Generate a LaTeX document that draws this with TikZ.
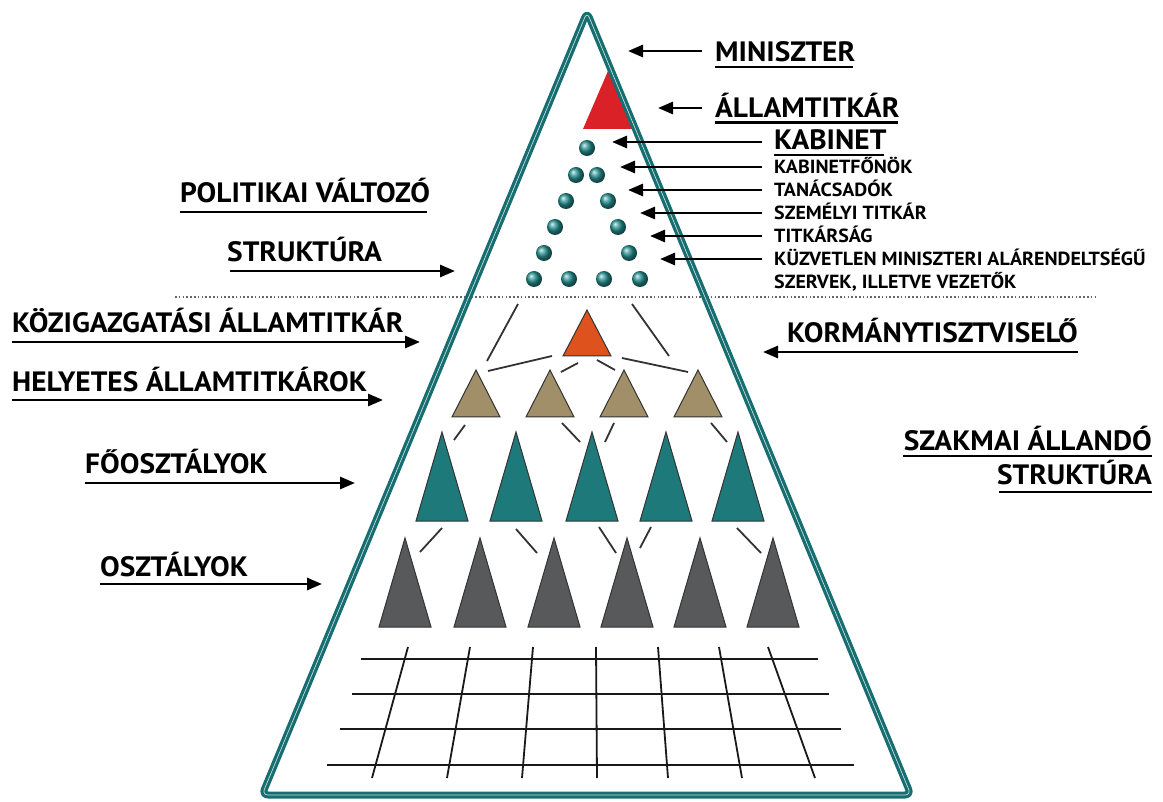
\documentclass[tikz,border=0pt]{standalone}
\usepackage{fontspec}
\setmainfont{PT Sans}
\newfontfamily\labfont{PT Sans}[FakeStretch=1.05]
\usetikzlibrary{arrows.meta}
\definecolor{pyrteal}{RGB}{22,110,112}
\definecolor{triteal}{RGB}{30,122,122}
\definecolor{tan}{RGB}{160,143,104}
\definecolor{darkgray}{RGB}{88,89,91}
\definecolor{orng}{RGB}{222,82,30}
\definecolor{redtri}{RGB}{218,33,40}
\definecolor{dotteal}{RGB}{38,145,145}
\tikzset{
  lab/.style={font=\labfont\bfseries\fontsize{28}{28}\selectfont, inner sep=0pt, anchor=base west},
  labe/.style={lab, anchor=base east},
  slab/.style={font=\labfont\bfseries\fontsize{19}{19}\selectfont, inner sep=0pt, anchor=base west},
  arr/.style={-{Triangle[length=15pt,width=12pt]}, line width=2.8pt},
  uline/.style={line width=2.8pt},
  conn/.style={line width=1.8pt, draw=black!80},
  tri/.style={draw=black!80, line width=1pt, line join=miter},
  gridl/.style={line width=1.8pt, draw=black!90},
  dotball/.style={ball color=dotteal},
}
\begin{document}
\begin{tikzpicture}[x=1pt,y=-1pt]
\useasboundingbox (0,0) rectangle (1163,802);
\fill[white] (0,0) rectangle (1163,802);

% red triangle (Allamtitkar)
\fill[redtri] (608,71) -- (633,129) -- (583,129) -- cycle;

% cabinet dots
\foreach \p in {(587,148),(576,175),(597,175),(566,201),(608,201),(555,227),(618,227),(544,253),(629,253),(534,279),(569,279),(604,279),(640,279)}
  \shade[dotball] \p circle (8);

% dotted separator
\coordinate (dotL) at (175,297);
\coordinate (dotR) at (1097,297);
\draw[black!60, line width=1.6pt, dash pattern=on 1.6pt off 2.2pt] (dotL) -- (dotR);

% orange triangle
\filldraw[tri, fill=orng] (587,310) -- (611,356) -- (563,356) -- cycle;
% tan triangles
\foreach \x in {476,550,624,698}
  \filldraw[tri, fill=tan] (\x,370) -- (\x+24,417) -- (\x-24,417) -- cycle;
% teal triangles
\foreach \x in {442,516,592,666,738}
  \filldraw[tri, fill=triteal] (\x,432) -- (\x+26,521) -- (\x-26,521) -- cycle;
% gray triangles
\foreach \x in {405,480,554,627,700,773}
  \filldraw[tri, fill=darkgray] (\x,538) -- (\x+26,627) -- (\x-26,627) -- cycle;

% connector segments
\draw[conn] (518,304) -- (487,361);
\draw[conn] (632,304) -- (669,356);
\draw[conn] (552,356) -- (488,371);
\draw[conn] (578,363) -- (561,372);
\draw[conn] (597,360) -- (615,370);
\draw[conn] (622,358) -- (688,372);
\draw[conn] (465,425) -- (454,440);
\draw[conn] (562,423) -- (580,442);
\draw[conn] (614,423) -- (605,442);
\draw[conn] (711,423) -- (727,442);
\draw[conn] (442,528) -- (420,552);
\draw[conn] (516,529) -- (537,553);
\draw[conn] (599,527) -- (616,553);
\draw[conn] (651,527) -- (640,548);
\draw[conn] (737,528) -- (761,553);

% grid
\draw[gridl] (361,659) -- (818,659);
\draw[gridl] (352,694) -- (829,694);
\draw[gridl] (340,729) -- (841,729);
\draw[gridl] (327,765) -- (854,765);
\draw[gridl] (408,647) -- (372,778);
\draw[gridl] (470,647) -- (447,778);
\draw[gridl] (533,647) -- (522,778);
\draw[gridl] (596,647) -- (597,778);
\draw[gridl] (658,647) -- (668,778);
\draw[gridl] (719,647) -- (742,778);
\draw[gridl] (768,647) -- (815,778);

% pyramid outline
\coordinate (apex) at (587,12);
\coordinate (bl) at (262,795);
\coordinate (br) at (911,795);
\draw[pyrteal, line width=7pt, rounded corners=6pt, line join=round] (apex) -- (br) -- (bl) -- cycle;
\draw[white, opacity=0.75, line width=0.7pt, rounded corners=6pt, line join=round] (apex) -- (br) -- (bl) -- cycle;

% ---------- top right labels ----------
\node[lab] (minis) at (715,62) {MINISZTER};
\draw[uline] (715,67) -- (853,67);
\draw[arr] (702,51) -- (628,51);

\node[lab] (allam) at (715,118) {ÁLLAMTITKÁR};
\draw[uline] (715,122.5) -- (898,122.5);
\draw[arr] (702,108) -- (658,108);

\node[lab] (kab) at (774,150) {KABINET};
\draw[uline] (774,155) -- (884,155);
\draw[arr] (762,142) -- (612,142);

\node[slab] (kf) at (774,174) {KABINETFŐNÖK};
\draw[arr] (762,167) -- (620,167);
\node[slab] (tan) at (774,197) {TANÁCSADÓK};
\draw[arr] (762,190) -- (628,190);
\node[slab] (szt) at (774,220) {SZEMÉLYI TITKÁR};
\draw[arr] (762,213) -- (640,213);
\node[slab] (tit) at (774,243) {TITKÁRSÁG};
\draw[arr] (762,236) -- (650,236);
\node[slab] (kuz) at (774,266) {KÜZVETLEN MINISZTERI ALÁRENDELTSÉGŰ};
\draw[arr] (762,259) -- (660,259);
\node[slab] (szerv) at (774,289) {SZERVEK, ILLETVE VEZETŐK};

% ---------- left labels ----------
\node[lab] (pol) at (180,203) {POLITIKAI VÁLTOZÓ};
\draw[uline] (180,212) -- (427,212);

\node[lab] (str) at (227,262) {STRUKTÚRA};
\draw[arr] (230,271) -- (455,271);

\node[lab] (koz) at (12,333) {KÖZIGAZGATÁSI ÁLLAMTITKÁR};
\draw[arr] (12,342) -- (420,342);

\node[lab] (hely) at (12,392) {HELYETES ÁLLAMTITKÁROK};
\draw[arr] (12,400) -- (383,400);

\node[lab] (foo) at (85,474) {FŐOSZTÁLYOK};
\draw[arr] (85,483) -- (355,483);

\node[lab] (oszt) at (100,576) {OSZTÁLYOK};
\draw[arr] (100,584) -- (322,584);

% ---------- right labels ----------
\node[lab] (korm) at (787,343) {KORMÁNYTISZTVISELŐ};
\draw[arr] (1078,352) -- (763,352);

\node[labe] (szak) at (1152,450) {SZAKMAI ÁLLANDÓ};
\draw[uline] (903,456) -- (1152,456);
\node[labe] (str2) at (1152,485) {STRUKTÚRA};
\draw[uline] (999,492) -- (1152,492);
\end{tikzpicture}
\end{document}
